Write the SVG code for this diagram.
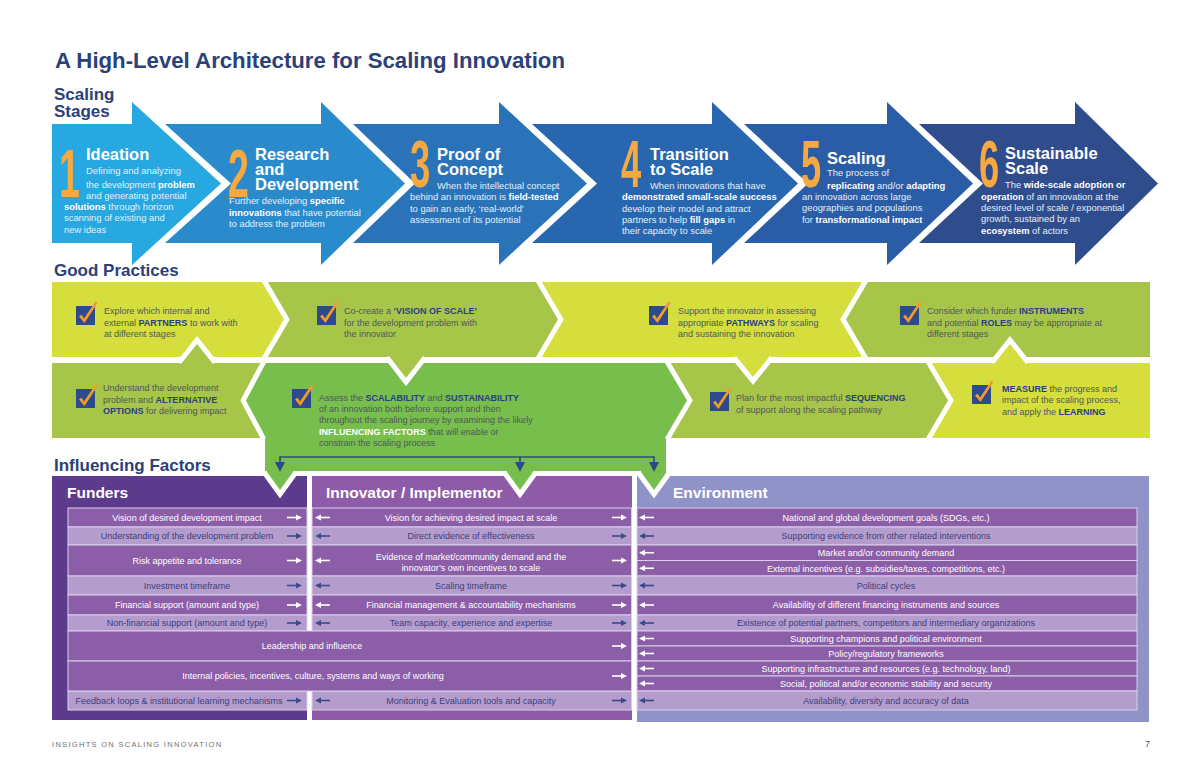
<svg xmlns="http://www.w3.org/2000/svg" width="1200" height="776" viewBox="0 0 1200 776">
<defs>
<style>
text{font-family:"Liberation Sans",Arial,sans-serif}
.hd{font-weight:bold;fill:#2b4177}
.num{font-weight:bold;fill:#f7a941}
.st{font-weight:bold;fill:#fff;font-size:16.5px}
.sd{fill:#e2f0fa;font-size:9.4px}
.b{font-weight:bold;fill:#fff}
.gp{fill:#4e585c;font-size:9px}
.gb{font-weight:bold;fill:#2a3f80}
.gw{font-weight:bold;fill:#fff}
.rt{font-size:9px;text-anchor:middle}
.rw{fill:#fff}
.rn{fill:#3b3e7d}
.dk{fill:#8c5ea8;stroke:#d9cfe9;stroke-width:1}
.lt{fill:#b49dcc;stroke:#d9cfe9;stroke-width:1}
.ph{font-weight:bold;font-size:15.5px;fill:#fff}
.yel{fill:#d5de3c}
.olv{fill:#a7c548}
.brt{fill:#77be4c}
.wo{fill:none;stroke:#fff;stroke-width:10;stroke-linejoin:miter;stroke-miterlimit:10}
.conn{fill:none;stroke:#2b4a8a;stroke-width:1.6}
</style>
<marker id="ah" markerWidth="10" markerHeight="10" refX="8" refY="5" orient="auto" markerUnits="userSpaceOnUse"><path d="M0,0 L10,5 L0,10 Z" fill="#2b4a8a"/></marker>
<g id="chk"><rect width="19" height="19" fill="#2d4a8b"/><path d="M3,10.5 L5.5,8.5 L8,12.5 L19.5,-4.5 L21.5,-3 L8.5,17 Z" fill="#f49a2a"/></g>
<g id="arRw"><path d="M0,0H10" stroke="#fff" stroke-width="1.6"/><path d="M9,-3L15,0L9,3Z" fill="#fff"/></g>
<g id="arRn"><path d="M0,0H10" stroke="#3b4a8a" stroke-width="1.6"/><path d="M9,-3L15,0L9,3Z" fill="#3b4a8a"/></g>
<g id="arLw"><path d="M5,0H15" stroke="#fff" stroke-width="1.6"/><path d="M6,-3L0,0L6,3Z" fill="#fff"/></g>
<g id="arLn"><path d="M5,0H15" stroke="#3b4a8a" stroke-width="1.6"/><path d="M6,-3L0,0L6,3Z" fill="#3b4a8a"/></g>
</defs>
<rect width="1200" height="776" fill="#fff"/>

<text class="hd" x="55" y="68" font-size="22.2">A High-Level Architecture for Scaling Innovation</text>
<text class="hd" x="54" y="100" font-size="17">Scaling</text>
<text class="hd" x="54" y="116.5" font-size="17">Stages</text>

<g id="stage1">
<polygon points="52,124 132,124 132,102 221,183.5 132,265 132,243 52,243" fill="#27a8e0"/>
<text class="num" font-size="68" transform="translate(59,197) scale(0.55,1)">1</text>
<text class="st" x="86" y="160">Ideation</text>
<text class="sd" x="86" y="173.5">Defining and analyzing</text>
<text class="sd" x="86" y="187.5">the development <tspan class="b">problem</tspan></text>
<text class="sd" x="86" y="198.5">and generating potential</text>
<text class="sd" x="64" y="209.5"><tspan class="b">solutions</tspan> through horizon</text>
<text class="sd" x="64" y="221">scanning of existing and</text>
<text class="sd" x="64" y="232.5">new ideas</text>
</g>
<g id="stage2">
<polygon points="165,124 321,124 321,102 405,183.5 321,265 321,243 165,243 231,183.5" fill="#2a8bcc"/>
<text class="num" font-size="68" transform="translate(228,197) scale(0.55,1)">2</text>
<text class="st" x="255" y="160">Research</text>
<text class="st" x="255" y="175">and</text>
<text class="st" x="255" y="190">Development</text>
<text class="sd" x="229" y="204">Further developing <tspan class="b">specific</tspan></text>
<text class="sd" x="229" y="215.5"><tspan class="b">innovations</tspan> that have potential</text>
<text class="sd" x="229" y="226.5">to address the problem</text>
</g>
<g id="stage3">
<polygon points="353,124 499,124 499,102 587,183.5 499,265 499,243 353,243 415,183.5" fill="#2b73b9"/>
<text class="num" font-size="66" transform="translate(410,187) scale(0.55,1)">3</text>
<text class="st" x="437" y="160">Proof of</text>
<text class="st" x="437" y="175">Concept</text>
<text class="sd" x="437" y="189">When the intellectual concept</text>
<text class="sd" x="410" y="200">behind an innovation is <tspan class="b">field-tested</tspan></text>
<text class="sd" x="410" y="211.5">to gain an early, ‘real-world’</text>
<text class="sd" x="410" y="222.5">assessment of its potential</text>
</g>
<g id="stage4">
<polygon points="532,124 712,124 712,102 798,183.5 712,265 712,243 532,243 597,183.5" fill="#2867af"/>
<text class="num" font-size="66" transform="translate(621,187) scale(0.55,1)">4</text>
<text class="st" x="650" y="160">Transition</text>
<text class="st" x="650" y="175">to Scale</text>
<text class="sd" x="650" y="189">When innovations that have</text>
<text class="sd" x="622" y="200"><tspan class="b">demonstrated small-scale success</tspan></text>
<text class="sd" x="622" y="211.5">develop their model and attract</text>
<text class="sd" x="622" y="222.5">partners to help <tspan class="b">fill gaps</tspan> in</text>
<text class="sd" x="622" y="234">their capacity to scale</text>
</g>
<g id="stage5">
<polygon points="744,124 887,124 887,102 973,183.5 887,265 887,243 744,243 808,183.5" fill="#2b5ca6"/>
<text class="num" font-size="66" transform="translate(801,187) scale(0.55,1)">5</text>
<text class="st" x="827" y="164">Scaling</text>
<text class="sd" x="827" y="176">The process of</text>
<text class="sd" x="827" y="188.5"><tspan class="b">replicating</tspan> and/or <tspan class="b">adapting</tspan></text>
<text class="sd" x="802" y="200">an innovation across large</text>
<text class="sd" x="802" y="211">geographies and populations</text>
<text class="sd" x="802" y="222.5">for <tspan class="b">transformational impact</tspan></text>
</g>
<g id="stage6">
<polygon points="919,124 1075,124 1075,102 1158,183.5 1075,265 1075,243 919,243 983,183.5" fill="#2f4c8c"/>
<text class="num" font-size="66" transform="translate(979,187) scale(0.55,1)">6</text>
<text class="st" x="1005" y="159">Sustainable</text>
<text class="st" x="1005" y="174">Scale</text>
<text class="sd" x="1005" y="188">The <tspan class="b">wide-scale adoption or</tspan></text>
<text class="sd" x="981" y="199.5"><tspan class="b">operation</tspan> of an innovation at the</text>
<text class="sd" x="981" y="211">desired level of scale / exponential</text>
<text class="sd" x="981" y="222">growth, sustained by an</text>
<text class="sd" x="981" y="233.5"><tspan class="b">ecosystem</tspan> of actors</text>
</g>

<text class="hd" x="54" y="276" font-size="17">Good Practices</text>

<g id="gp-partners">
<rect class="yel" x="52" y="282" width="211" height="75"/>
<use href="#chk" x="76" y="306"/>
<text class="gp" x="104" y="314">Explore which internal and</text>
<text class="gp" x="104" y="325.5">external <tspan class="gb">PARTNERS</tspan> to work with</text>
<text class="gp" x="104" y="337">at different stages</text>
</g>
<g id="gp-vision">
<rect class="olv" x="266" y="282" width="271" height="75"/>
<use href="#chk" x="317" y="306"/>
<text class="gp" x="344" y="314">Co-create a <tspan class="gb">‘VISION OF SCALE’</tspan></text>
<text class="gp" x="344" y="325.5">for the development problem with</text>
<text class="gp" x="344" y="337">the innovator</text>
</g>
<g id="gp-pathways">
<rect class="yel" x="540" y="282" width="321" height="75"/>
<use href="#chk" x="649" y="306"/>
<text class="gp" x="678" y="314">Support the innovator in assessing</text>
<text class="gp" x="678" y="325.5">appropriate <tspan class="gb">PATHWAYS</tspan> for scaling</text>
<text class="gp" x="678" y="337">and sustaining the innovation</text>
</g>
<g id="gp-instruments">
<rect class="olv" x="867" y="282" width="283" height="75"/>
<use href="#chk" x="900" y="306"/>
<text class="gp" x="927" y="314">Consider which funder <tspan class="gb">INSTRUMENTS</tspan></text>
<text class="gp" x="927" y="325.5">and potential <tspan class="gb">ROLES</tspan> may be appropriate at</text>
<text class="gp" x="927" y="337">different stages</text>
</g>
<g id="gp-options">
<rect class="olv" x="52" y="363" width="210" height="75"/>
<use href="#chk" x="76" y="389"/>
<text class="gp" x="103" y="391">Understand the development</text>
<text class="gp" x="103" y="402.5">problem and <tspan class="gb">ALTERNATIVE</tspan></text>
<text class="gp" x="103" y="414"><tspan class="gb">OPTIONS</tspan> for delivering impact</text>
</g>
<g id="gp-assess">
<rect class="brt" x="265" y="363" width="401" height="108"/>
<use href="#chk" x="292" y="389"/>
<text class="gp" x="319" y="400.5">Assess the <tspan class="gb">SCALABILITY</tspan> and <tspan class="gb">SUSTAINABILITY</tspan></text>
<text class="gp" x="319" y="411.5">of an innovation both before support and then</text>
<text class="gp" x="319" y="423">throughout the scaling journey by examining the likely</text>
<text class="gp" x="319" y="434.5"><tspan class="gw">INFLUENCING FACTORS</tspan> that will enable or</text>
<text class="gp" x="319" y="445.5">constrain the scaling process</text>
</g>
<g id="gp-sequencing">
<rect class="olv" x="670" y="363" width="257" height="75"/>
<use href="#chk" x="710" y="392"/>
<text class="gp" x="736" y="400.5">Plan for the most impactful <tspan class="gb">SEQUENCING</tspan></text>
<text class="gp" x="736" y="412.5">of support along the scaling pathway</text>
</g>
<g id="gp-measure">
<rect class="yel" x="931" y="363" width="219" height="75"/>
<use href="#chk" x="972" y="385"/>
<text class="gp" x="1002" y="391.5"><tspan class="gb">MEASURE</tspan> the progress and</text>
<text class="gp" x="1002" y="403">impact of the scaling process,</text>
<text class="gp" x="1002" y="414.5">and apply the <tspan class="gb">LEARNING</tspan></text>
</g>

<g id="gp-tabs">
<path class="wo" d="M262,282 L284,319.5 L262,357"/>
<polygon class="yel" points="256,282 262,282 284,319.5 262,357 256,357"/>
<path class="wo" d="M536,282 L558,319.5 L536,357"/>
<polygon class="olv" points="530,282 536,282 558,319.5 536,357 530,357"/>
<path class="wo" d="M868,282 L846,319.5 L868,357"/>
<polygon class="olv" points="874,282 868,282 846,319.5 868,357 874,357"/>
<path class="wo" d="M389,356 L406,378 L423,356"/>
<polygon class="olv" points="389,350 389,356 406,378 423,356 423,350"/>
<path class="wo" d="M736,356 L753,377 L770,356"/>
<polygon class="yel" points="736,350 736,356 753,377 770,356 770,350"/>
<path class="wo" d="M181,364 L197,344 L213,364"/>
<polygon class="olv" points="181,370 181,364 197,344 213,364 213,370"/>
<path class="wo" d="M994,364 L1010,344 L1026,364"/>
<polygon class="yel" points="994,370 994,364 1010,344 1026,364 1026,370"/>
<path class="wo" d="M266,363 L246,400.5 L266,438"/>
<polygon class="brt" points="272,363 266,363 246,400.5 266,438 272,438"/>
<path class="wo" d="M665,363 L687,400.5 L665,438"/>
<polygon class="brt" points="659,363 665,363 687,400.5 665,438 659,438"/>
<path class="wo" d="M926,363 L948,400.5 L926,438"/>
<polygon class="olv" points="920,363 926,363 948,400.5 926,438 920,438"/>
</g>

<text class="hd" x="54" y="471" font-size="17">Influencing Factors</text>

<g id="funders">
<rect x="52" y="476" width="255" height="244" fill="#5c3b8c"/>
<text class="ph" x="67" y="498">Funders</text>
<rect class="dk" x="68" y="508" width="239" height="19"/>
<rect class="lt" x="68" y="527" width="239" height="18"/>
<rect class="dk" x="68" y="545" width="239" height="31"/>
<rect class="lt" x="68" y="576" width="239" height="19"/>
<rect class="dk" x="68" y="595" width="239" height="20"/>
<rect class="lt" x="68" y="615" width="239" height="16"/>
<rect class="lt" x="68" y="691" width="239" height="19"/>
<text class="rt rw" x="187" y="520.5">Vision of desired development impact</text>
<text class="rt rn" x="187" y="539">Understanding of the development problem</text>
<text class="rt rw" x="187" y="564">Risk appetite and tolerance</text>
<text class="rt rn" x="187" y="588.5">Investment timeframe</text>
<text class="rt rw" x="187" y="608">Financial support (amount and type)</text>
<text class="rt rn" x="187" y="626">Non-financial support (amount and type)</text>
<text class="rt rn" x="179" y="703.5">Feedback loops &amp; institutional learning mechanisms</text>
<use href="#arRw" x="287" y="517.5"/>
<use href="#arRn" x="287" y="536"/>
<use href="#arRw" x="287" y="560.5"/>
<use href="#arRn" x="287" y="585.5"/>
<use href="#arRw" x="287" y="605"/>
<use href="#arRn" x="287" y="623"/>
<use href="#arRn" x="287" y="700.5"/>
</g>

<g id="innovator">
<rect x="312" y="476" width="320" height="244" fill="#8d5ba7"/>
<text class="ph" x="326" y="498">Innovator / Implementor</text>
<rect class="dk" x="312" y="508" width="319.5" height="19"/>
<rect class="lt" x="312" y="527" width="319.5" height="18"/>
<rect class="dk" x="312" y="545" width="319.5" height="31"/>
<rect class="lt" x="312" y="576" width="319.5" height="19"/>
<rect class="dk" x="312" y="595" width="319.5" height="20"/>
<rect class="lt" x="312" y="615" width="319.5" height="16"/>
<rect class="lt" x="312" y="691" width="319.5" height="19"/>
<text class="rt rw" x="471" y="520.5">Vision for achieving desired impact at scale</text>
<text class="rt rn" x="471" y="539">Direct evidence of effectiveness</text>
<text class="rt rw" x="471" y="559.5">Evidence of market/community demand and the</text>
<text class="rt rw" x="471" y="570.5">innovator’s own incentives to scale</text>
<text class="rt rn" x="471" y="588.5">Scaling timeframe</text>
<text class="rt rw" x="471" y="608">Financial management &amp; accountability mechanisms</text>
<text class="rt rn" x="471" y="626">Team capacity, experience and expertise</text>
<text class="rt rn" x="471" y="703.5">Monitoring &amp; Evaluation tools and capacity</text>
<use href="#arLw" x="315" y="517.5"/><use href="#arRw" x="612" y="517.5"/>
<use href="#arLn" x="315" y="536"/><use href="#arRn" x="612" y="536"/>
<use href="#arLw" x="315" y="560.5"/><use href="#arRw" x="612" y="560.5"/>
<use href="#arLn" x="315" y="585.5"/><use href="#arRn" x="612" y="585.5"/>
<use href="#arLw" x="315" y="605"/><use href="#arRw" x="612" y="605"/>
<use href="#arLn" x="315" y="623"/><use href="#arRn" x="612" y="623"/>
<use href="#arLn" x="315" y="700.5"/><use href="#arRn" x="612" y="700.5"/>
</g>

<g id="shared-factors">
<rect class="dk" x="68" y="631" width="563.5" height="30"/>
<rect class="dk" x="68" y="661" width="563.5" height="30"/>
<text class="rt rw" x="312" y="649">Leadership and influence</text>
<text class="rt rw" x="313" y="679">Internal policies, incentives, culture, systems and ways of working</text>
<use href="#arRw" x="612" y="646"/>
<use href="#arRw" x="612" y="676"/>
</g>

<g id="environment">
<rect x="637" y="476" width="512" height="246" fill="#8f93c8"/>
<text class="ph" x="673" y="498">Environment</text>
<rect class="dk" x="637" y="508" width="500" height="19"/>
<rect class="lt" x="637" y="527" width="500" height="18"/>
<rect class="dk" x="637" y="545" width="500" height="15.5"/>
<rect class="dk" x="637" y="560.5" width="500" height="15.5"/>
<rect class="lt" x="637" y="576" width="500" height="19"/>
<rect class="dk" x="637" y="595" width="500" height="20"/>
<rect class="lt" x="637" y="615" width="500" height="16"/>
<rect class="dk" x="637" y="631" width="500" height="15"/>
<rect class="dk" x="637" y="646" width="500" height="15"/>
<rect class="dk" x="637" y="661" width="500" height="15"/>
<rect class="dk" x="637" y="676" width="500" height="15"/>
<rect class="lt" x="637" y="691" width="500" height="19"/>
<text class="rt rw" x="886" y="520.5">National and global development goals (SDGs, etc.)</text>
<text class="rt rn" x="886" y="539">Supporting evidence from other related interventions</text>
<text class="rt rw" x="886" y="556">Market and/or community demand</text>
<text class="rt rw" x="886" y="571.5">External incentives (e.g. subsidies/taxes, competitions, etc.)</text>
<text class="rt rn" x="886" y="588.5">Political cycles</text>
<text class="rt rw" x="886" y="608">Availability of different financing instruments and sources</text>
<text class="rt rn" x="886" y="626">Existence of potential partners, competitors and intermediary organizations</text>
<text class="rt rw" x="886" y="641.5">Supporting champions and political environment</text>
<text class="rt rw" x="886" y="656.5">Policy/regulatory frameworks</text>
<text class="rt rw" x="886" y="671.5">Supporting infrastructure and resources (e.g. technology, land)</text>
<text class="rt rw" x="886" y="686.5">Social, political and/or economic stability and security</text>
<text class="rt rn" x="886" y="703.5">Availability, diversity and accuracy of data</text>
<use href="#arLw" x="639" y="517.5"/>
<use href="#arLn" x="639" y="536"/>
<use href="#arLw" x="639" y="552.75"/>
<use href="#arLw" x="639" y="568.25"/>
<use href="#arLn" x="639" y="585.5"/>
<use href="#arLw" x="639" y="605"/>
<use href="#arLn" x="639" y="623"/>
<use href="#arLw" x="639" y="638.5"/>
<use href="#arLw" x="639" y="653.5"/>
<use href="#arLw" x="639" y="668.5"/>
<use href="#arLw" x="639" y="683.5"/>
<use href="#arLn" x="639" y="700.5"/>
</g>

<g id="assess-tabs">
<path class="wo" d="M267,472 L280,490 L293,472"/>
<polygon class="brt" points="267,466 267,472 280,490 293,472 293,466"/>
<path class="wo" d="M507,472 L520,490 L533,472"/>
<polygon class="brt" points="507,466 507,472 520,490 533,472 533,466"/>
<path class="wo" d="M641,472 L654,490 L667,472"/>
<polygon class="brt" points="641,466 641,472 654,490 666,473 666,466"/>
</g>

<g id="connectors">
<path class="conn" d="M280,457 H654"/>
<path class="conn" d="M280,456.2 V470" marker-end="url(#ah)"/>
<path class="conn" d="M520,457 V470" marker-end="url(#ah)"/>
<path class="conn" d="M654,456.2 V470" marker-end="url(#ah)"/>
</g>

<text x="52" y="747" font-size="7.5" letter-spacing="1.3" fill="#707070">INSIGHTS ON SCALING INNOVATION</text>
<text x="1145" y="747" font-size="9" fill="#555">7</text>
</svg>
